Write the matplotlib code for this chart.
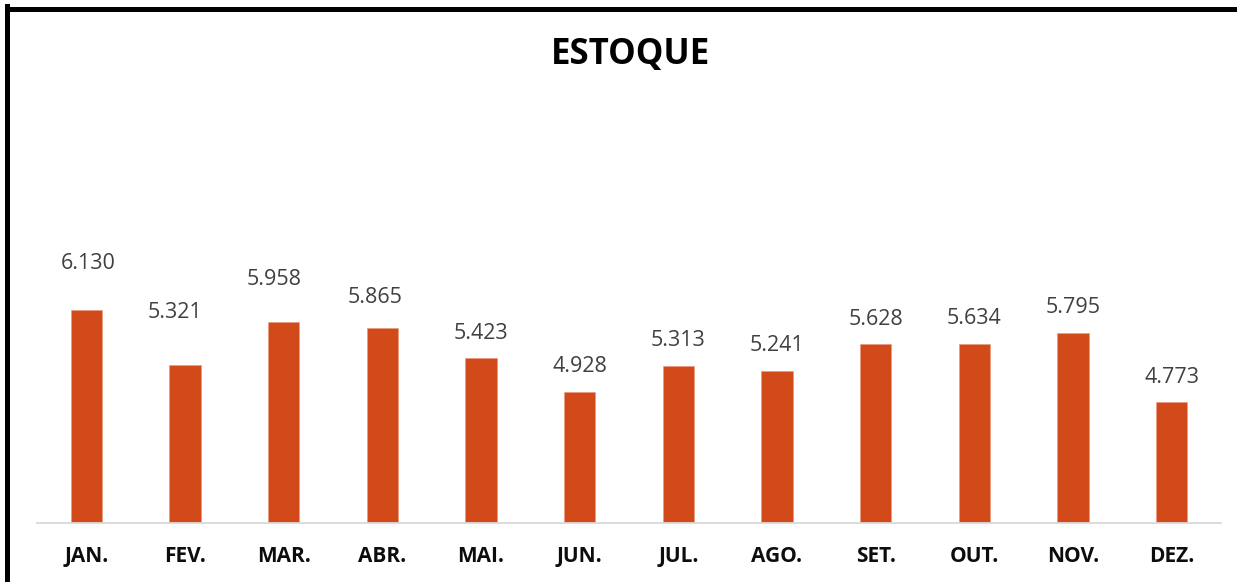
import matplotlib.pyplot as plt
from matplotlib.lines import Line2D

meses = ['JAN.', 'FEV.', 'MAR.', 'ABR.', 'MAI.', 'JUN.',
         'JUL.', 'AGO.', 'SET.', 'OUT.', 'NOV.', 'DEZ.']
estoque = [6130, 5321, 5958, 5865, 5423, 4928,
           5313, 5241, 5628, 5634, 5795, 4773]

# deslocamento dos rotulos (pixels) - alguns foram arrastados a mao no original
rotulo_dx = [1.5, -10, -10, -7.5, 0, 0, 0, 0, 0, 0, 0, 0]
rotulo_dy = [47, 53, 42, 31, 25, 25, 25, 25, 25, 25, 25, 25]

cor_barra = '#D24A19'
plt.rcParams['font.family'] = ['Open Sans', 'DejaVu Sans']

fig = plt.figure(figsize=(12.37, 5.82), dpi=100)
ax = fig.add_axes([37 / 1237, 59 / 582, 1184 / 1237, 272 / 582])

x = range(len(meses))
ax.bar(x, estoque, width=0.315, color=cor_barra, edgecolor='#E9967A', linewidth=0.4)
ax.set_xlim(-0.5, len(meses) - 0.5)
ax.set_ylim(3000, 7000)

for i, v in enumerate(estoque):
    rotulo = f'{v:,}'.replace(',', '.')
    ax.annotate(rotulo, (i, v), xytext=(rotulo_dx[i], rotulo_dy[i]),
                textcoords='offset pixels', ha='center', va='center',
                fontsize=15.5, color='#404040', annotation_clip=False)

ax.set_xticks(list(x))
ax.set_xticklabels(meses, fontsize=15, fontweight='bold', color='#0D0D0D')
ax.tick_params(axis='x', length=0, pad=16.5)
ax.set_yticks([])
for lado in ['top', 'right', 'left']:
    ax.spines[lado].set_visible(False)
ax.spines['bottom'].set_color('#D9D9D9')
ax.spines['bottom'].set_linewidth(1.3)
ax.patch.set_alpha(0)

fig.text(630 / 1237, 1 - 55 / 582, 'ESTOQUE', ha='center', va='center',
         fontsize=25, fontweight='bold', color='black')

# moldura preta (esquerda e topo)
fig.add_artist(Line2D([7.5 / 1237, 7.5 / 1237], [0, 1 - 6 / 582],
                      transform=fig.transFigure, color='black', linewidth=3.6,
                      solid_capstyle='projecting'))
fig.add_artist(Line2D([7.5 / 1237, 1], [1 - 8.5 / 582, 1 - 8.5 / 582],
                      transform=fig.transFigure, color='black', linewidth=3.6))

fig.savefig('out.png', dpi=100)
